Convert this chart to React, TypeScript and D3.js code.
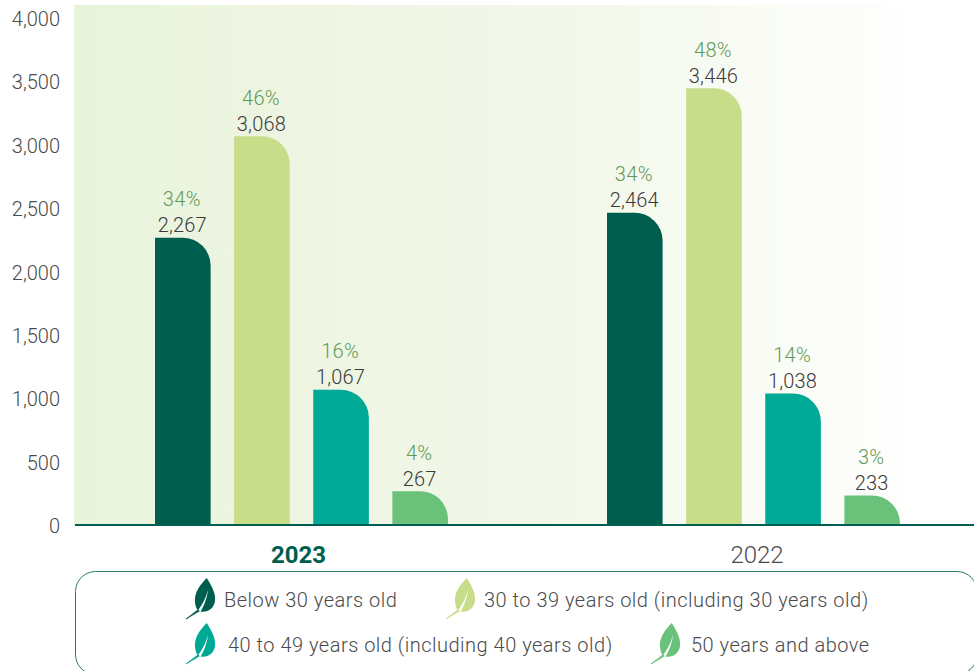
import React from "react";
import * as d3 from "d3";

const WIDTH = 974;
const HEIGHT = 671;

const years = ["2023", "2022"];
const ageGroups = ["Below 30 years old", "30 to 39 years old (including 30 years old)", "40 to 49 years old (including 40 years old)", "50 years and above"];
const ageColors = ["#005e4e", "#c8dd8a", "#00a896", "#6ac17a"];
const values2023 = [2267, 3068, 1067, 267];
const values2022 = [2464, 3446, 1038, 233];
const shares2023 = ["34%", "46%", "16%", "4%"];
const shares2022 = ["34%", "48%", "14%", "3%"];
const yTicks = [0, 500, 1000, 1500, 2000, 2500, 3000, 3500, 4000];

const valuesByYear = [values2023, values2022];
const sharesByYear = [shares2023, shares2022];
const FONT = "Roboto, sans-serif";
const TEXT = "#4a4a4a";

const y = d3.scaleLinear().domain([0, 4000]).range([525, 18]);
const x0 = d3.scalePoint<string>().domain(years).range([301.5, 753.5]);
const x1 = d3.scaleBand<number>().domain([0, 1, 2, 3]).range([-146.5, 146.5]).paddingInner(0.297);
const fmt = d3.format(",");

// Bar with a square top-left corner and a large rounded top-right corner.
function barPath(left: number, width: number, top: number, bottom: number) {
  const r = Math.min(28, bottom - top);
  const p = d3.path();
  p.moveTo(left, bottom);
  p.lineTo(left, top);
  p.lineTo(left + width - r, top);
  p.arcTo(left + width, top, left + width, top + r, r);
  p.lineTo(left + width, bottom);
  p.closePath();
  return p.toString();
}

const LEAF_BODY = "M20.7,0 C15,6 8,14 9,24 C9.3,28 10.5,31 12,32.5 C16,27 20,20 22,12 C21,20 18,28 14.5,33.6 C22,35 28,30 29,23 C30,16 26,8 20.7,0 Z";
const LEAF_STEM = "M0,41 L12,31.8 L13.4,33 Z";

function Leaf({ color, x, y: top }: { color: string; x: number; y: number }) {
  return (
    <g transform={`translate(${x},${top})`} fill={color}>
      <path d={LEAF_BODY} />
      <path d={LEAF_STEM} stroke={color} strokeWidth={0.8} />
    </g>
  );
}

const legendLeafX = [186, 446, 186, 651];
const legendLeafY = [578, 578, 623, 623];
const legendTextX = [224, 484, 228, 691];
const legendTextY = [607, 607, 652, 652];

export default function App() {
  return (
    <svg width={WIDTH} height={HEIGHT} viewBox={`0 0 ${WIDTH} ${HEIGHT}`} style={{ position: "absolute", left: 0, top: 0, background: "#fff" }} fontFamily={FONT}>
      <defs>
        <linearGradient id="plotWash" x1="0" x2="1" y1="0" y2="0">
          <stop offset="0" stopColor="#e9f3dc" />
          <stop offset="0.55" stopColor="#f3f8ea" />
          <stop offset="0.95" stopColor="#ffffff" />
        </linearGradient>
      </defs>
      <rect x={74} y={5} width={900} height={520} fill="url(#plotWash)" />

      {yTicks.map((t) => (
        <text key={t} x={60} y={y(t) + 1} dy="0.35em" textAnchor="end" fontSize={20} fontWeight={300} fill={TEXT}>
          {fmt(t)}
        </text>
      ))}

      {years.map((year, yi) =>
        valuesByYear[yi].map((v, i) => {
          const left = x0(year)! + x1(i)!;
          const cx = left + x1.bandwidth() / 2;
          return (
            <g key={`${year}-${i}`}>
              <path d={barPath(left, x1.bandwidth(), y(v), y(0))} fill={ageColors[i]} />
              <text x={cx - 0.5} y={y(v) - 5.5} textAnchor="middle" fontSize={20} fontWeight={300} letterSpacing={0.2} fill="#3a3a3a">
                {fmt(v)}
              </text>
              <text x={cx - 1} y={y(v) - 31.5} textAnchor="middle" fontSize={20} fontWeight={300} letterSpacing={0.3} fill="#5f9a55">
                {sharesByYear[yi][i]}
              </text>
            </g>
          );
        })
      )}

      <line x1={75} x2={974} y1={y(0)} y2={y(0)} stroke="#005e4e" strokeWidth={2} />

      <text x={298.5} y={563} textAnchor="middle" fontSize={24} fontWeight={700} fill="#005e4e">2023</text>
      <text x={757} y={563} textAnchor="middle" fontSize={24} fontWeight={300} fill={TEXT}>2022</text>

      <rect x={75.5} y={571.5} width={901.5} height={103} rx={20} fill="#fff" stroke="#2a7a6c" strokeWidth={1} />

      {ageGroups.map((label, i) => (
        <g key={label}>
          <Leaf color={ageColors[i]} x={legendLeafX[i]} y={legendLeafY[i]} />
          <text x={legendTextX[i]} y={legendTextY[i]} fontSize={20} fontWeight={300} letterSpacing={0.5} fill={TEXT}>
            {label}
          </text>
        </g>
      ))}
    </svg>
  );
}
